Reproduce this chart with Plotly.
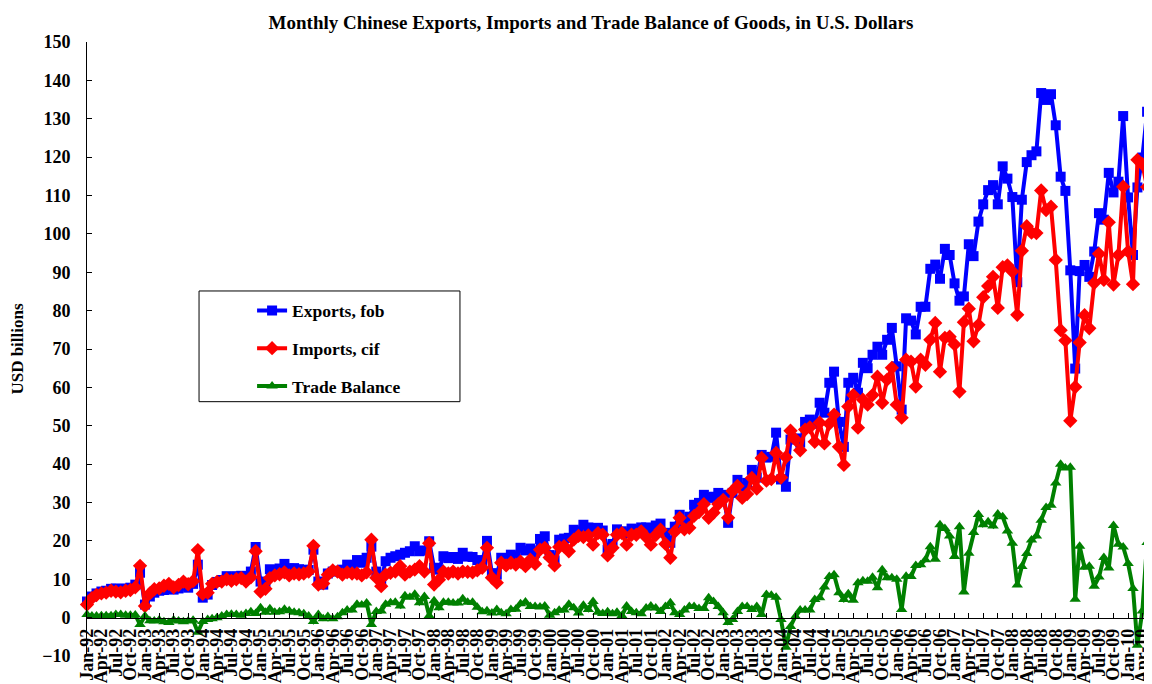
import pandas as pd
import plotly.graph_objects as go

# monthly dates, Jan-92 .. Jun-10
months = pd.date_range("1992-01-01", "2010-06-01", freq="MS")

# USD billions (one row per year)
exports = [
    4.2, 5.5, 6.3, 6.8, 7.0, 7.5, 7.6, 7.4, 7.6, 7.8, 8.6, 11.7,
    3.4, 5.5, 6.5, 7.0, 7.2, 7.5, 7.3, 7.6, 8.3, 7.8, 8.8, 13.8,
    5.2, 6.0, 8.5, 9.3, 9.8, 10.8, 10.5, 10.8, 10.9, 10.5, 12.0, 18.4,
    9.4, 8.9, 12.6, 12.4, 12.8, 14.0, 12.8, 12.9, 12.6, 12.5, 12.4, 17.7,
    9.4, 8.6, 11.5, 12.0, 12.2, 12.5, 13.8, 13.5, 15.0, 14.3, 15.6, 18.5,
    12.0, 9.9, 14.7, 15.6, 16.0, 16.4, 16.9, 17.3, 18.6, 17.3, 17.5, 19.9,
    13.0, 12.5, 16.0, 15.5, 15.8, 15.3, 16.9, 15.9, 15.8, 15.0, 14.5, 20.0,
    11.6, 11.2, 15.6, 14.6, 16.4, 16.0, 18.2, 17.5, 18.0, 16.9, 20.5, 21.2,
    16.3, 14.9, 20.3, 20.6, 20.8, 22.9, 22.5, 24.2, 23.5, 23.2, 23.4, 22.7,
    17.7, 19.2, 23.0, 22.5, 22.0, 23.2, 22.9, 23.5, 23.5, 22.0, 24.0, 24.5,
    22.1, 19.5, 23.7, 26.8, 25.0, 26.3, 29.4, 29.9, 32.0, 31.2, 31.5, 32.5,
    32.0, 24.7, 32.5, 35.9, 34.1, 35.1, 38.5, 36.5, 42.4, 41.7, 41.9, 48.2,
    36.0, 34.1, 46.4, 46.7, 45.6, 51.0, 51.6, 50.5, 56.0, 53.4, 61.2, 64.1,
    51.0, 44.5, 61.2, 62.5, 58.6, 66.4, 65.0, 68.5, 70.6, 68.5, 72.4, 75.5,
    65.5, 54.2, 78.0, 77.4, 73.8, 81.0, 81.0, 90.9, 92.0, 88.3, 96.1, 94.5,
    87.1, 82.6, 83.7, 97.3, 94.2, 103.2, 107.7, 111.4, 112.7, 107.7, 117.6, 114.4,
    109.6, 87.4, 108.9, 118.7, 120.5, 121.5, 136.7, 134.9, 136.4, 128.3, 114.9, 111.2,
    90.5, 64.9, 90.3, 91.9, 88.8, 95.4, 105.4, 103.7, 115.9, 110.8, 113.6, 130.7,
    109.5, 94.5, 112.1, 119.9, 131.8, 137.4,
]

imports = [
    3.4, 5.1, 5.9, 6.3, 6.5, 7.0, 6.8, 6.6, 7.0, 7.2, 7.9, 13.5,
    3.0, 6.3, 7.4, 7.6, 8.3, 8.8, 7.9, 8.5, 9.4, 8.7, 9.5, 17.6,
    6.2, 6.5, 8.8, 9.3, 9.4, 10.0, 9.6, 10.0, 10.3, 9.4, 10.5, 17.3,
    6.8, 7.5, 10.3, 11.0, 11.3, 11.8, 11.0, 11.5, 11.3, 11.5, 12.0, 18.7,
    8.6, 8.9, 11.2, 12.3, 12.0, 11.2, 11.8, 11.5, 11.5, 11.0, 11.8, 20.3,
    10.4, 8.2, 11.2, 11.7, 12.0, 13.4, 11.2, 12.0, 12.5, 13.4, 12.0, 19.4,
    8.6, 9.9, 12.0, 11.5, 12.0, 11.5, 12.0, 11.9, 11.8, 12.3, 13.0, 18.2,
    10.4, 9.1, 14.3, 13.6, 14.3, 13.8, 14.6, 13.4, 15.1, 14.0, 17.7, 18.2,
    15.7, 13.6, 18.4, 18.6, 17.3, 20.3, 21.3, 21.0, 21.4, 19.0, 22.0, 21.6,
    16.2, 18.2, 21.6, 22.0, 19.0, 21.6, 21.6, 22.5, 21.0, 19.0, 21.5, 22.9,
    19.2, 15.6, 22.4, 26.0, 23.0, 23.4, 26.5, 27.5, 29.6, 26.0, 27.3, 29.6,
    30.7, 26.0, 33.0, 34.3, 31.2, 32.2, 36.4, 33.6, 41.6, 35.7, 36.1, 42.9,
    36.5, 41.8, 48.7, 46.4, 43.6, 49.0, 49.6, 45.8, 50.8, 45.4, 50.5, 52.9,
    44.5, 39.8, 55.0, 58.0, 49.5, 56.8, 55.5, 58.0, 62.8, 56.0, 62.0, 65.1,
    55.5, 52.1, 67.2, 66.7, 60.2, 67.2, 65.9, 72.4, 76.8, 64.1, 72.9, 73.2,
    71.2, 58.9, 77.0, 80.5, 72.0, 76.3, 83.5, 86.4, 88.8, 80.7, 91.3, 91.8,
    90.2, 78.9, 95.6, 102.0, 100.3, 100.2, 111.3, 106.2, 107.1, 93.2, 74.9, 72.2,
    51.3, 60.1, 71.7, 78.8, 75.4, 87.2, 94.8, 88.0, 103.0, 86.8, 94.5, 112.3,
    95.4, 86.9, 119.3, 118.2, 112.2, 117.4,
]

balance = [
    0.8, 0.4, 0.4, 0.5, 0.5, 0.5, 0.8, 0.8, 0.6, 0.6, 0.7, -1.8,
    0.4, -0.8, -0.9, -0.6, -1.1, -1.3, -0.6, -0.9, -1.1, -0.9, -0.7, -3.8,
    -1.0, -0.5, -0.3, 0.0, 0.4, 0.8, 0.9, 0.8, 0.6, 1.1, 1.5, 1.1,
    2.6, 1.4, 2.3, 1.4, 1.5, 2.2, 1.8, 1.4, 1.3, 1.0, 0.4, -1.0,
    0.8, -0.3, 0.3, -0.3, 0.2, 1.3, 2.0, 2.0, 3.5, 3.3, 3.8, -1.8,
    1.6, 1.7, 3.5, 3.9, 4.0, 3.0, 5.7, 5.3, 6.1, 3.9, 5.5, 0.5,
    4.4, 2.6, 4.0, 4.0, 3.8, 3.8, 4.9, 4.0, 4.0, 2.7, 1.5, 1.8,
    1.2, 2.1, 1.3, 1.0, 2.1, 2.2, 3.6, 4.1, 2.9, 2.9, 2.8, 3.0,
    0.6, 1.3, 1.9, 2.0, 3.5, 2.6, 1.2, 3.2, 2.1, 4.2, 1.4, 1.1,
    1.5, 1.0, 1.4, 0.5, 3.0, 1.6, 1.3, 1.0, 2.5, 3.0, 2.5, 1.6,
    2.9, 3.9, 1.3, 0.8, 2.0, 2.9, 2.9, 2.4, 2.4, 5.2, 4.2, 2.9,
    1.3, -1.3, -0.5, 1.6, 2.9, 2.9, 2.1, 2.9, 0.8, 6.0, 5.8, 5.3,
    -0.5, -7.7, -2.3, 0.3, 2.0, 2.0, 2.0, 4.7, 5.2, 8.0, 10.7, 11.2,
    6.5, 4.7, 6.2, 4.5, 9.1, 9.6, 9.5, 10.5, 7.8, 12.5, 10.4, 10.4,
    10.0, 2.1, 10.8, 10.7, 13.6, 13.8, 15.1, 18.5, 15.2, 24.2, 23.2, 21.3,
    15.9, 23.7, 6.7, 16.8, 22.2, 26.9, 24.2, 25.0, 23.9, 27.0, 26.3, 22.6,
    19.4, 8.5, 13.3, 16.7, 20.2, 21.3, 25.4, 28.7, 29.3, 35.1, 40.0, 39.0,
    39.2, 4.8, 18.6, 13.1, 13.4, 8.2, 10.6, 15.7, 12.9, 24.0, 19.1, 18.4,
    14.1, 7.6, -7.2, 1.7, 19.6, 20.0,
]

FONT = "Liberation Serif, Times New Roman, serif"

fig = go.Figure()

series = [
    ("Exports, fob", exports, "#0000ff", "square", 10),
    ("Imports, cif", imports, "#ff0000", "diamond", 11),
    ("Trade Balance", balance, "#008000", "triangle-up", 10),
]
for name, vals, col, sym, size in series:
    fig.add_trace(go.Scatter(
        x=months, y=vals, name=name, legendgroup=name,
        mode="lines+markers",
        line=dict(color=col, width=4),
        marker=dict(symbol=sym, size=size, color=col),
        cliponaxis=False,
    ))

# legend frame
fig.add_shape(type="rect", xref="paper", yref="paper",
              x0=0.1052, x1=0.3502, y0=0.4142, y1=0.5945,
              line=dict(color="black", width=1), fillcolor="white", layer="below")

# the page puts the plot 8px in from the top-left corner
fig.update_layout(
    width=1152, height=684,
    template="none",
    paper_bgcolor="white", plot_bgcolor="white",
    margin=dict(l=79, r=8, t=34, b=36),
    font=dict(family=FONT, color="black"),
    title=dict(text="Monthly Chinese Exports, Imports and Trade Balance of Goods, in U.S. Dollars",
               font=dict(family=FONT, size=19, weight="bold"),
               x=(591 - 8) / 1152, xanchor="center",
               y=1 - 14 / 684, yanchor="middle"),
    showlegend=True,
    legend=dict(x=0.155, y=0.592, xanchor="left", yanchor="top",
                bgcolor="rgba(0,0,0,0)", borderwidth=0,
                traceorder="grouped", tracegroupgap=12,
                font=dict(family=FONT, size=17.5, weight="bold")),
    xaxis=dict(
        type="date", range=[months[0], months[-1]],
        tick0="1992-01-01", dtick="M3", tickformat="%b-%y", tickangle=-90,
        ticks="inside", ticklen=5, tickcolor="black",
        showline=True, linecolor="black", linewidth=1,
        showgrid=False, zeroline=False,
        anchor="free", position=10 / 160, automargin=False,
        ticklabelstandoff=3,
        tickfont=dict(family=FONT, size=18, weight="bold"),
    ),
    yaxis=dict(
        range=[-10, 150], dtick=10,
        ticks="inside", ticklen=5, tickcolor="black",
        showline=True, linecolor="black", linewidth=1,
        showgrid=False, zeroline=False, automargin=False,
        ticklabelstandoff=12,
        tickfont=dict(family=FONT, size=18, weight="bold"),
        title=dict(text="USD billions", standoff=14,
                   font=dict(family=FONT, size=17, weight="bold")),
    ),
)

fig.write_html("out.html")
